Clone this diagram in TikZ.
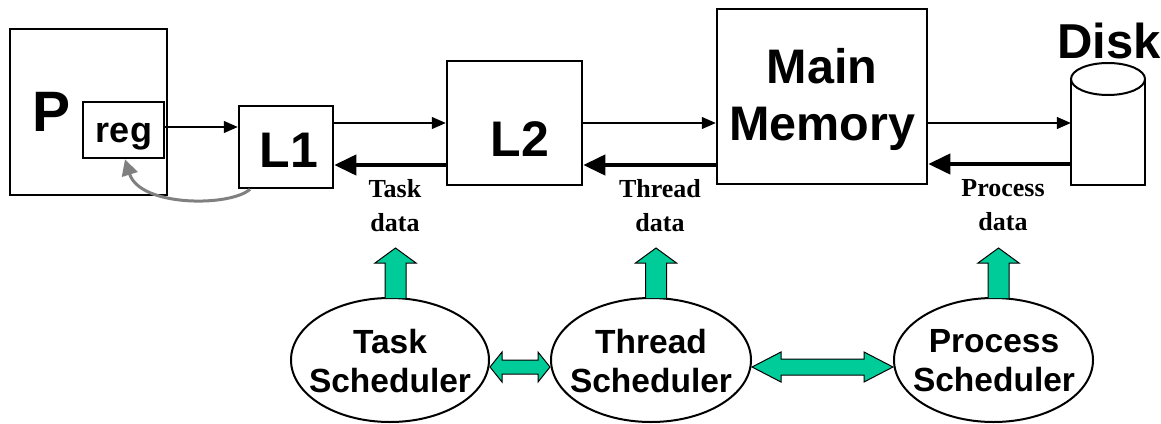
\documentclass[tikz,border=0pt]{standalone}
\usepackage{fontspec}
\setmainfont{Liberation Serif}
\setsansfont{Liberation Sans}
\usetikzlibrary{arrows.meta,shapes.geometric,calc}
\definecolor{sgreen}{RGB}{0,204,153}
\definecolor{sgray}{RGB}{128,128,128}
\newcommand\garr[2]{%
  \filldraw[garrow] let \p1=(#1.north) in
  ({\x1+#2pt-10.5pt},{\y1-1pt}) -- ({\x1+#2pt-10.5pt},-263pt) -- ({\x1+#2pt-20.5pt},-263pt)
  -- ({\x1+#2pt},-248pt) -- ({\x1+#2pt+20.5pt},-263pt) -- ({\x1+#2pt+10.5pt},-263pt)
  -- ({\x1+#2pt+10.5pt},{\y1-1pt});}
\newcommand\darr[5]{%
  \filldraw[garrow] let \p1=(#1.east), \p2=(#2.west) in
  (\x1,-367pt) -- ({\x1+#5pt},{-367pt+#4pt}) -- ({\x1+#5pt},{-367pt+#3pt})
  -- ({\x2-#5pt},{-367pt+#3pt}) -- ({\x2-#5pt},{-367pt+#4pt}) -- (\x2,-367pt)
  -- ({\x2-#5pt},{-367pt-#4pt}) -- ({\x2-#5pt},{-367pt-#3pt})
  -- ({\x1+#5pt},{-367pt-#3pt}) -- ({\x1+#5pt},{-367pt-#4pt}) -- cycle;}
\begin{document}
\begin{tikzpicture}[x=1pt,y=-1pt,
  box/.style={draw, line width=2.5pt, fill=white, inner sep=0},
  txt/.style={font=\sffamily\bfseries\fontsize{#1}{#1}\selectfont},
  lbl/.style={inner sep=0, anchor=base},
  datalbl/.style={inner sep=0, align=center, font=\rmfamily\bfseries\fontsize{26}{34}\selectfont},
  schedlbl/.style={inner sep=0, align=center, font=\sffamily\bfseries\fontsize{33.5}{39}\selectfont},
  thinarr/.style={line width=1.3pt, -{Triangle[length=14pt,width=12pt]}},
  thickarr/.style={line width=4pt, -{Triangle[length=22pt,width=20pt]}},
  garrow/.style={draw=black, line width=1pt, fill=sgreen, line join=miter},
  sched/.style={ellipse, draw, line width=2pt, fill=white, minimum height=124pt, inner sep=0},
]
\useasboundingbox (0,0) rectangle (1161,423);

% boxes
\node[box, minimum width=157pt, minimum height=166pt] (p) at (88.5,112) {};
\node[lbl, txt=57] (ptext) at (52,131) {P};
\node[box, minimum width=81pt, minimum height=56pt] (reg) at (123.5,130) {};
\node[lbl, txt=36] (regtext) at (124,142) {reg};
\node[box, minimum width=94pt, minimum height=82pt] (l1) at (286,147) {};
\node[lbl, txt=50] (l1text) at (289,167) {L1};
\node[box, minimum width=135pt, minimum height=124pt] (l2) at (514.5,123) {};
\node[lbl, txt=50] (l2text) at (520,156) {L2};
\node[box, minimum width=210pt, minimum height=175pt] (mm) at (822,96.5) {};
\node[inner sep=0, align=center, font=\sffamily\bfseries\fontsize{48.5}{57}\selectfont] (mmtext) at (822,99.6) {Main\\Memory};

% disk
\node[inner sep=0, minimum width=74pt, minimum height=122pt] (disk) at (1108,124) {};
\filldraw[line width=2pt, fill=white] (disk.west |- 0,79) -- (disk.south west) -- (disk.south east) -- (disk.east |- 0,79);
\filldraw[line width=2pt, fill=white] (disk.north |- 0,79) ellipse [x radius=37, y radius=16];
\node[lbl, txt=49] (disktext) at (1109,58) {Disk};

% data arrows
\draw[thinarr] (reg.east |- 0,127) -- (l1.west |- 0,127);
\draw[thinarr] (l1.east |- 0,123) -- (l2.west |- 0,123);
\draw[thickarr] (l2.west |- 0,165) -- (l1.east |- 0,165);
\draw[thinarr] (l2.east |- 0,123) -- (mm.west |- 0,123);
\draw[thickarr] (mm.west |- 0,165) -- (l2.east |- 0,165);
\draw[thinarr] (mm.east |- 0,123) -- (disk.west |- 0,123);
\draw[thickarr] (disk.west |- 0,164) -- (mm.east |- 0,164);
\draw[line width=3pt, sgray, -{Triangle[length=16pt,width=16pt]}]
  (l1.south -| 250,0) .. controls (230,207) and (140,207) .. (reg.south -| 125,0);

% labels
\node[datalbl] (tdata) at (395,205.5) {Task\\data};
\node[datalbl] (thdata) at (660,205.5) {Thread\\data};
\node[datalbl] (pdata) at (1003,205) {Process\\data};

% schedulers
\node[sched, minimum width=198pt] (ts) at (390,360) {};
\node[sched, minimum width=200pt] (th) at (651,360) {};
\node[sched, minimum width=199pt] (ps) at (993.5,360) {};
\node[schedlbl] (tstext) at (390,361) {Task\\Scheduler};
\node[schedlbl] (thtext) at (651,361) {Thread\\Scheduler};
\node[schedlbl] (pstext) at (994,361) {Process\\Scheduler};

\garr{ts}{5.5}
\garr{th}{5}
\garr{ps}{5}
\darr{ts}{th}{7}{15}{12}
\darr{th}{ps}{8}{15}{29}
\end{tikzpicture}
\end{document}
